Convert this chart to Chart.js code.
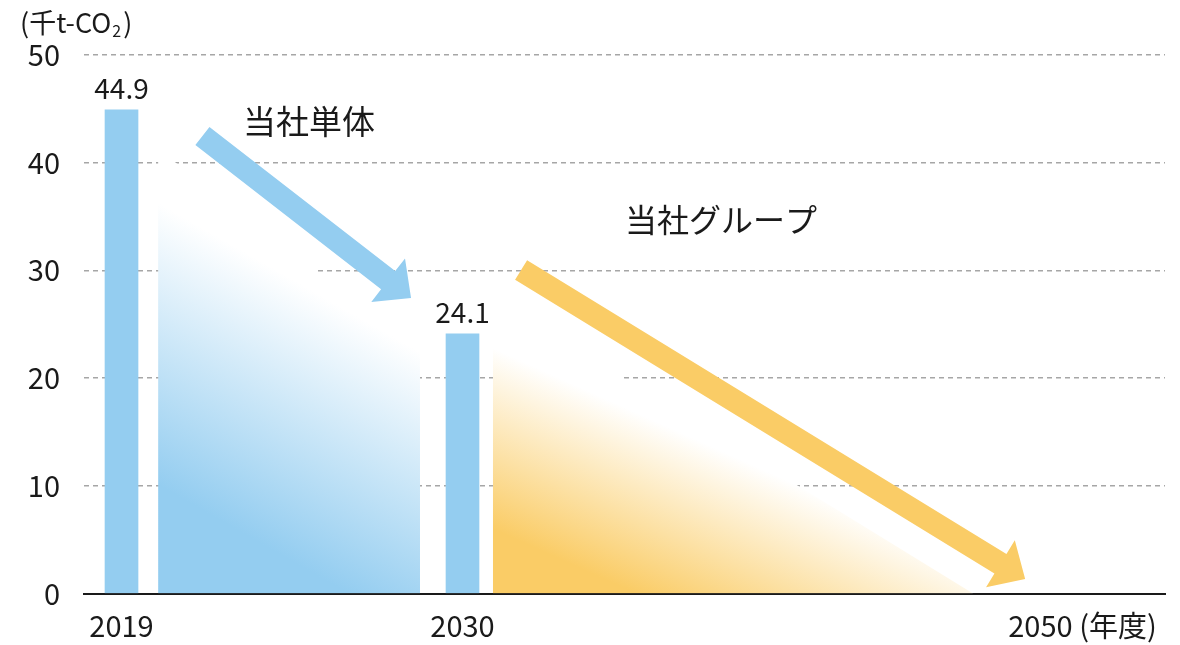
<!DOCTYPE html>
<html>
<head>
<meta charset="utf-8">
<script src="https://cdn.jsdelivr.net/npm/chart.js@4"></script>
<style>
  html, body { margin: 0; padding: 0; background: #fff; }
  #wrap { width: 1180px; height: 645px; }
</style>
</head>
<body>
<div id="wrap"><canvas id="myChart"></canvas></div>
<script>
// data
const barYears = [2019, 2030];
const barValues = [44.9, 24.1];
const tickYears = [2019, 2030, 2050];
const tickLabels = ['2019', '2030', '2050 (年度)'];
const yTicks = [0, 10, 20, 30, 40, 50];

// decorative trend areas (year, value)
const blueAreaX = [2020.18, 2028.63];
const blueAreaY = [41.27, 22.42];
const yellowAreaX = [2030.98, 2046.47];
const yellowAreaY = [27.44, 0];

// arrows: [start, end] in (year, value)
const blueArrowX = [2021.61, 2028.34];
const blueArrowY = [42.48, 27.44];
const yellowArrowX = [2031.89, 2048.15];
const yellowArrowY = [30.04, 1.35];

const noteTexts = ['当社単体', '当社グループ'];
const noteX = [2025.05, 2038.34];
const noteY = [43.87, 34.68];

const BLUE = '#94cdf0';
const YELLOW = '#facc66';
const FONT = "'Noto Sans CJK JP', 'Noto Sans', sans-serif";

// gradient: white along a line through the anchor (slope in px), full colour `dist` px below-left of it
function areaGradient(anchorX, anchorY, slope, dist, color) {
  return function(context) {
    const chart = context.chart;
    if (!chart.chartArea) return color;
    const ax = chart.scales.x.getPixelForValue(anchorX);
    const ay = chart.scales.y.getPixelForValue(anchorY);
    const len = Math.hypot(1, slope);
    const nx = -slope / len, ny = 1 / len;
    const g = chart.ctx.createLinearGradient(ax, ay, ax + nx * dist, ay + ny * dist);
    g.addColorStop(0, '#ffffff');
    g.addColorStop(1, color);
    return g;
  };
}

function drawArrow(ctx, xa, ya, xb, yb, color) {
  const shaft = 11.5, head = 27.5, headLen = 29;
  let dx = xb - xa, dy = yb - ya;
  const len = Math.hypot(dx, dy);
  dx /= len; dy /= len;
  const nx = -dy, ny = dx;
  const bx = xb - dx * headLen, by = yb - dy * headLen;
  ctx.save();
  ctx.fillStyle = color;
  ctx.beginPath();
  ctx.moveTo(xa + nx * shaft, ya + ny * shaft);
  ctx.lineTo(bx + nx * shaft, by + ny * shaft);
  ctx.lineTo(bx + nx * head, by + ny * head);
  ctx.lineTo(xb, yb);
  ctx.lineTo(bx - nx * head, by - ny * head);
  ctx.lineTo(bx - nx * shaft, by - ny * shaft);
  ctx.lineTo(xa - nx * shaft, ya - ny * shaft);
  ctx.closePath();
  ctx.fill();
  ctx.restore();
}

const decorPlugin = {
  id: 'decor',
  afterDatasetsDraw(chart) {
    const ctx = chart.ctx;
    const sx = chart.scales.x, sy = chart.scales.y;

    drawArrow(ctx, sx.getPixelForValue(blueArrowX[0]), sy.getPixelForValue(blueArrowY[0]),
      sx.getPixelForValue(blueArrowX[1]), sy.getPixelForValue(blueArrowY[1]), BLUE);
    drawArrow(ctx, sx.getPixelForValue(yellowArrowX[0]), sy.getPixelForValue(yellowArrowY[0]),
      sx.getPixelForValue(yellowArrowX[1]), sy.getPixelForValue(yellowArrowY[1]), YELLOW);

    ctx.save();
    ctx.fillStyle = '#1a1a1a';
    ctx.textAlign = 'center';
    ctx.textBaseline = 'middle';

    // bar value labels
    ctx.font = '28px ' + FONT;
    const meta = chart.getDatasetMeta(2);
    meta.data.forEach(function(bar, i) {
      ctx.fillText(barValues[i].toFixed(1), bar.x, bar.y - 22);
    });

    // series notes
    noteTexts.forEach(function(t, i) {
      ctx.font = (i === 0 ? '33px ' : '32px ') + FONT;
      ctx.fillText(t, sx.getPixelForValue(noteX[i]), sy.getPixelForValue(noteY[i]));
    });

    // unit label
    ctx.textAlign = 'left';
    ctx.font = '27px ' + FONT;
    ctx.fillText('(千t-CO', 20, 23);
    const w = ctx.measureText('(千t-CO').width;
    ctx.font = '16px ' + FONT;
    ctx.fillText('2', 20 + w + 1, 31);
    const w2 = ctx.measureText('2').width;
    ctx.font = '27px ' + FONT;
    ctx.fillText(')', 20 + w + w2 + 3, 23);
    ctx.restore();
  }
};

const ctx = document.querySelector('#myChart').getContext('2d');

// eslint-disable-next-line no-undef
const chart = new Chart(ctx, {
  type: 'bar',
  data: {
    datasets: [{
      type: 'line',
      data: blueAreaX.map((x, i) => ({x: x, y: blueAreaY[i]})),
      fill: 'origin',
      backgroundColor: areaGradient(blueAreaX[1], blueAreaY[1], 0.57, 245, BLUE),
      borderWidth: 0,
      pointRadius: 0,
      order: 3,
    },
    {
      type: 'line',
      data: yellowAreaX.map((x, i) => ({x: x, y: yellowAreaY[i]})),
      fill: 'origin',
      backgroundColor: areaGradient(yellowAreaX[0], 22.8, 0.45, 165, YELLOW),
      borderWidth: 0,
      pointRadius: 0,
      order: 2,
    },
    {
      label: 'CO2',
      data: barYears.map((x, i) => ({x: x, y: barValues[i]})),
      backgroundColor: BLUE,
      borderWidth: 0,
      barThickness: 33,
      order: 1,
    }]
  },
  options: {
    responsive: true,
    maintainAspectRatio: false,
    animation: false,
    layout: {
      padding: {left: 20, right: 15, top: 55, bottom: 0}
    },
    plugins: {
      legend: { display: false },
      tooltip: { enabled: false },
    },
    scales: {
      x: {
        type: 'linear',
        min: 2017.79,
        max: 2052.661,
        offset: false,
        grid: { display: false, drawTicks: false },
        border: { display: true, color: '#1a1a1a', width: 2 },
        afterBuildTicks: function(axis) {
          axis.ticks = tickYears.map(v => ({value: v}));
        },
        afterFit: function(axis) { axis.height = 645 - 593.5; },
        ticks: {
          autoSkip: false,
          maxRotation: 0,
          padding: 15,
          color: '#1a1a1a',
          font: { family: FONT, size: 29 },
          callback: function(value, index) { return tickLabels[index]; }
        }
      },
      y: {
        min: 0,
        max: 50,
        afterBuildTicks: function(axis) {
          axis.ticks = yTicks.map(v => ({value: v}));
        },
        afterFit: function(axis) { axis.width = 84 - 20; },
        grid: { color: '#a6a6a6', lineWidth: 1.4, drawTicks: false },
        border: { display: false, dash: [5, 4] },
        ticks: {
          padding: 24,
          color: '#1a1a1a',
          font: { family: FONT, size: 29 },
        }
      }
    }
  },
  plugins: [decorPlugin],
});
</script>
</body>
</html>
